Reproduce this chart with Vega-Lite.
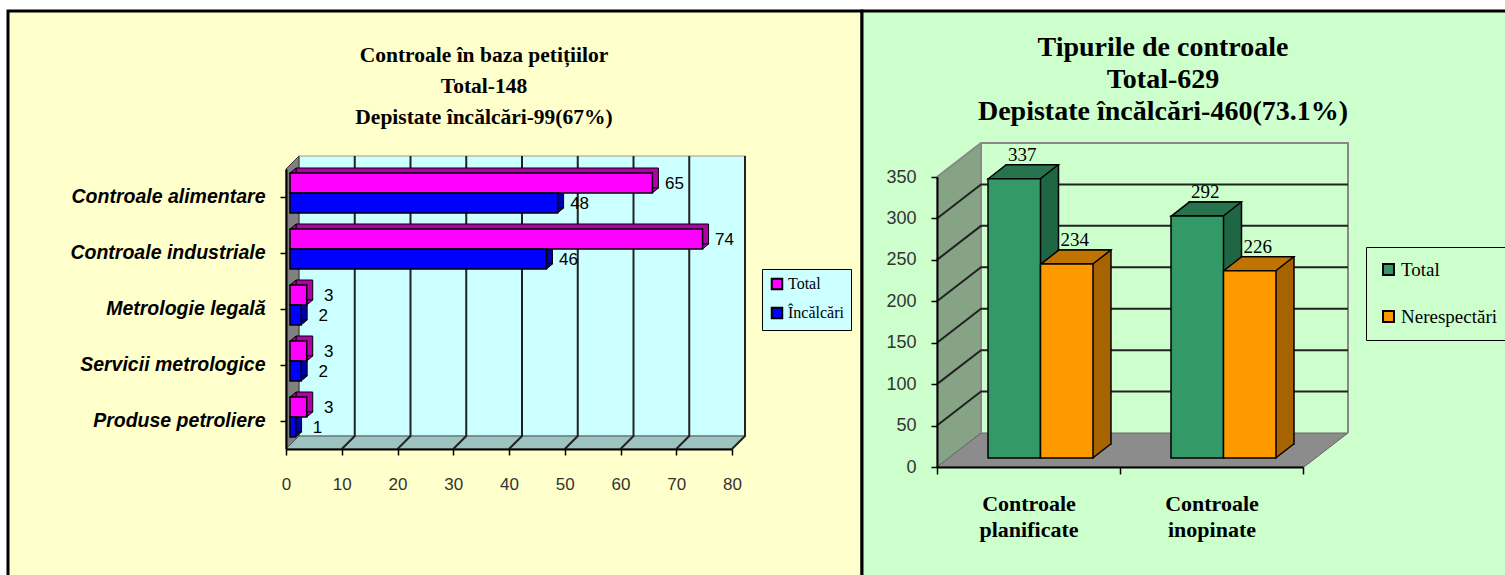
{"$schema":"https://vega.github.io/schema/vega-lite/v6.json","background":"#ffffff","padding":{"left":6,"top":9,"right":0,"bottom":0},"spacing":0,"bounds":"flush","resolve":{"scale":{"color":"independent"},"legend":{"color":"independent"}},"datasets":{"left":[{"cat":"Controale alimentare","series":"Total","value":65},{"cat":"Controale alimentare","series":"Încălcări","value":48},{"cat":"Controale industriale","series":"Total","value":74},{"cat":"Controale industriale","series":"Încălcări","value":46},{"cat":"Metrologie legală","series":"Total","value":3},{"cat":"Metrologie legală","series":"Încălcări","value":2},{"cat":"Servicii metrologice","series":"Total","value":3},{"cat":"Servicii metrologice","series":"Încălcări","value":2},{"cat":"Produse petroliere","series":"Total","value":3},{"cat":"Produse petroliere","series":"Încălcări","value":1}],"right":[{"cat":"Controale planificate","series":"Total","value":337},{"cat":"Controale planificate","series":"Nerespectări","value":234},{"cat":"Controale inopinate","series":"Total","value":292},{"cat":"Controale inopinate","series":"Nerespectări","value":226}],"leftTicks":[{"t":10},{"t":20},{"t":30},{"t":40},{"t":50},{"t":60},{"t":70},{"t":80}],"rightTicks":[{"t":50},{"t":100},{"t":150},{"t":200},{"t":250},{"t":300}],"one":[{"n":1}]},"hconcat":[{"width":854,"height":566,"view":{"fill":"#ffffcc","stroke":"#000000","strokeWidth":3},"title":{"text":["Controale în baza petițiilor","Total-148","Depistate încălcări-99(67%)"],"font":"Liberation Serif","fontWeight":"bold","fontSize":21.5,"lineHeight":31,"color":"#000000","anchor":"middle","dx":49,"baseline":"top","offset":-117},"resolve":{"scale":{"yOffset":"independent"}},"layer":[{"data":{"name":"one"},"mark":{"type":"point","filled":true,"size":4,"fill":"#ccffff","stroke":"#bbbbaa","strokeWidth":1.5,"opacity":1,"shape":"M13 -41 L459 -41 L459 239 L13 239 Z"},"encoding":{"x":{"datum":0,"type":"quantitative","scale":{"domain":[0,80],"range":[278,724]},"axis":{"values":[0,10,20,30,40,50,60,70,80],"offset":-128,"title":null,"grid":false,"labelFlush":false,"labelFont":"Liberation Sans","labelFontSize":17,"labelColor":"#333333","labelPadding":21,"tickColor":"#000000","tickSize":6,"tickWidth":1.5,"domainColor":"#000000","domainWidth":2,"zindex":1}},"y":{"datum":"Controale alimentare","type":"nominal","scale":{"domain":["Controale alimentare","Controale industriale","Metrologie legală","Servicii metrologice","Produse petroliere"],"type":"band","range":[158,438]},"axis":{"orient":"left","offset":-278,"title":null,"labelFont":"Liberation Sans","labelFontWeight":"bold","labelFontStyle":"italic","labelFontSize":19.5,"labelLimit":300,"labelColor":"#000000","labelPadding":15,"tickColor":"#000000","tickSize":6,"tickWidth":1.5,"domainColor":"#000000","domainWidth":2,"zindex":1}}}},{"data":{"name":"one"},"mark":{"type":"point","filled":true,"size":4,"fill":"#808080","stroke":"#333333","strokeWidth":1,"opacity":1,"shape":"M0 -28 L13 -41 L13 239 L0 252 Z"},"encoding":{"x":{"datum":0,"type":"quantitative"},"y":{"datum":"Controale alimentare","type":"nominal"}}},{"data":{"name":"one"},"mark":{"type":"point","filled":true,"size":4,"fill":"#9cc3c0","stroke":"#555555","strokeWidth":1,"opacity":1,"shape":"M0 252 L13 239 L459 239 L446 252 Z"},"encoding":{"x":{"datum":0,"type":"quantitative"},"y":{"datum":"Controale alimentare","type":"nominal"}}},{"data":{"name":"leftTicks"},"mark":{"type":"point","filled":false,"size":4,"stroke":"#222222","strokeWidth":2,"opacity":1,"shape":"M13 -41 L13 239 L0 252"},"encoding":{"x":{"field":"t","type":"quantitative"},"y":{"datum":"Controale alimentare","type":"nominal"}}},{"data":{"name":"left"},"mark":{"type":"bar","stroke":"#000000","strokeWidth":1,"xOffset":10,"x2Offset":10},"encoding":{"x":{"field":"value","type":"quantitative"},"y":{"field":"cat","type":"nominal"},"yOffset":{"field":"series","type":"nominal","scale":{"type":"band","domain":["Total","Încălcări"],"paddingOuter":0.4,"paddingInner":0,"range":[-9,47]}},"color":{"condition":{"test":"datum.series==='Total'","value":"#b000a8"},"value":"#0000a8"}}},{"data":{"name":"left"},"mark":{"type":"point","filled":true,"size":4,"stroke":"#000000","strokeWidth":1,"opacity":1,"shape":"M4 -14 L10 -19 L10 -14 Z"},"encoding":{"x":{"datum":0,"type":"quantitative"},"y":{"field":"cat","type":"nominal"},"yOffset":{"field":"series","type":"nominal","scale":{"type":"band","domain":["Total","Încălcări"],"paddingOuter":0.4,"paddingInner":0}},"color":{"condition":{"test":"datum.series==='Total'","value":"#b000a8"},"value":"#0000a8"}}},{"data":{"name":"left"},"mark":{"type":"point","filled":true,"size":4,"stroke":"#000000","strokeWidth":1,"opacity":1,"shape":"M4 6 L10 1 L4 1 Z"},"encoding":{"x":{"field":"value","type":"quantitative"},"y":{"field":"cat","type":"nominal"},"yOffset":{"field":"series","type":"nominal","scale":{"type":"band","domain":["Total","Încălcări"],"paddingOuter":0.4,"paddingInner":0}},"color":{"condition":{"test":"datum.series==='Total'","value":"#b000a8"},"value":"#0000a8"}}},{"data":{"name":"left"},"mark":{"type":"bar","stroke":"#000000","strokeWidth":1.5,"xOffset":4,"x2Offset":4},"encoding":{"x":{"field":"value","type":"quantitative"},"y":{"field":"cat","type":"nominal"},"yOffset":{"field":"series","type":"nominal","scale":{"type":"band","domain":["Total","Încălcări"],"paddingOuter":0.4,"paddingInner":0,"range":[-4,52]}},"color":{"field":"series","type":"nominal","scale":{"domain":["Total","Încălcări"],"range":["#ff00ff","#0000ff"]},"legend":{"orient":"none","legendX":754,"legendY":258,"title":null,"fillColor":"#ccffff","strokeColor":"#000000","padding":7,"rowPadding":9,"symbolType":"square","symbolSize":110,"symbolStrokeColor":"#000000","symbolStrokeWidth":2,"labelFont":"Liberation Serif","labelFontSize":16,"labelColor":"#000000","labelOffset":3}}}},{"data":{"name":"left"},"mark":{"type":"text","font":"Liberation Sans","fontSize":17,"color":"#000000","align":"center","baseline":"middle","dx":26,"dy":-3},"encoding":{"x":{"field":"value","type":"quantitative"},"y":{"field":"cat","type":"nominal"},"yOffset":{"field":"series","type":"nominal","scale":{"type":"band","domain":["Total","Încălcări"],"paddingOuter":0.4,"paddingInner":0}},"text":{"field":"value","type":"quantitative"}}}]},{"width":646,"height":566,"view":{"fill":"#ccffcc","stroke":"#000000","strokeWidth":3},"title":{"text":["Tipurile de controale","Total-629","Depistate încălcări-460(73.1%)"],"font":"Liberation Serif","fontWeight":"bold","fontSize":28,"lineHeight":32,"color":"#000000","anchor":"middle","dx":-22,"baseline":"top","offset":-115},"resolve":{"scale":{"xOffset":"independent"}},"layer":[{"data":{"name":"one"},"mark":{"type":"point","filled":true,"size":4,"fill":"#86a386","stroke":"#777777","strokeWidth":1,"opacity":1,"shape":"M-91.5 0 L-47.5 -34 L-47.5 -324 L-91.5 -290 Z"},"encoding":{"x":{"datum":"Controale planificate","type":"nominal","scale":{"type":"band","domain":["Controale planificate","Controale inopinate"],"range":[75,441]},"axis":{"offset":-110,"title":null,"labelAngle":0,"labelExpr":"split(datum.label,' ')","labelFont":"Liberation Serif","labelFontWeight":"bold","labelFontSize":22,"labelLineHeight":26,"labelColor":"#000000","labelPadding":19,"tickColor":"#000000","tickSize":7,"tickWidth":1.5,"tickBand":"extent","domainColor":"#000000","domainWidth":2,"zindex":1}},"y":{"datum":0,"type":"quantitative","scale":{"domain":[0,350],"range":[456,166]},"axis":{"values":[0,50,100,150,200,250,300,350],"orient":"left","offset":-75,"title":null,"grid":false,"labelFlush":false,"labelFont":"Liberation Sans","labelFontSize":18,"labelColor":"#333333","labelPadding":15,"tickColor":"#000000","tickSize":6,"tickWidth":1.5,"domainColor":"#000000","domainWidth":2,"zindex":1}}}},{"data":{"name":"one"},"mark":{"type":"point","filled":true,"size":4,"fill":"#8c8c8c","stroke":"#666666","strokeWidth":1,"opacity":1,"shape":"M-91.5 0 L-47.5 -34 L319.5 -34 L275.5 0 Z"},"encoding":{"x":{"datum":"Controale planificate","type":"nominal"},"y":{"datum":0,"type":"quantitative"}}},{"data":{"name":"one"},"mark":{"type":"point","filled":false,"size":4,"stroke":"#888888","strokeWidth":2,"opacity":1,"shape":"M-91.5 -290 L-47.5 -324 L319.5 -324 L319.5 -34 M-47.5 -34 L-47.5 -324"},"encoding":{"x":{"datum":"Controale planificate","type":"nominal"},"y":{"datum":0,"type":"quantitative"}}},{"data":{"name":"rightTicks"},"mark":{"type":"point","filled":false,"size":4,"stroke":"#222222","strokeWidth":2,"opacity":1,"shape":"M-91.5 0 L-47.5 -34 L319.5 -34"},"encoding":{"x":{"datum":"Controale planificate","type":"nominal"},"y":{"field":"t","type":"quantitative"}}},{"data":{"name":"right"},"mark":{"type":"bar","stroke":"#000000","strokeWidth":1.5,"yOffset":-23,"y2Offset":-23},"encoding":{"x":{"field":"cat","type":"nominal"},"xOffset":{"field":"series","type":"nominal","scale":{"type":"band","domain":["Total","Nerespectări"],"paddingOuter":0.743,"paddingInner":0,"range":[30,213]}},"y":{"field":"value","type":"quantitative"},"color":{"condition":{"test":"datum.series==='Total'","value":"#1f6644"},"value":"#a66300"}}},{"data":{"name":"right"},"mark":{"type":"point","filled":true,"size":4,"strokeWidth":0,"opacity":1,"shape":"M38 -9 L55.5 -23 L55.5 -25 L38 -25 Z"},"encoding":{"x":{"field":"cat","type":"nominal"},"xOffset":{"field":"series","type":"nominal","scale":{"type":"band","domain":["Total","Nerespectări"],"paddingOuter":0.743,"paddingInner":0}},"y":{"datum":0,"type":"quantitative"},"color":{"condition":{"test":"datum.series==='Total'","value":"#1f6644"},"value":"#a66300"}}},{"data":{"name":"right"},"mark":{"type":"point","filled":false,"size":4,"stroke":"#000000","strokeWidth":1.5,"opacity":1,"shape":"M38 -9 L56 -23"},"encoding":{"x":{"field":"cat","type":"nominal"},"xOffset":{"field":"series","type":"nominal","scale":{"type":"band","domain":["Total","Nerespectări"],"paddingOuter":0.743,"paddingInner":0}},"y":{"datum":0,"type":"quantitative"}}},{"data":{"name":"right"},"mark":{"type":"point","filled":true,"size":4,"stroke":"#000000","strokeWidth":1.5,"opacity":1,"shape":"M-14 -9 L4 -23 L56 -23 L38 -9 Z"},"encoding":{"x":{"field":"cat","type":"nominal"},"xOffset":{"field":"series","type":"nominal","scale":{"type":"band","domain":["Total","Nerespectări"],"paddingOuter":0.743,"paddingInner":0}},"y":{"field":"value","type":"quantitative"},"color":{"condition":{"test":"datum.series==='Total'","value":"#26734d"},"value":"#bf7300"}}},{"data":{"name":"right"},"mark":{"type":"bar","stroke":"#000000","strokeWidth":1.5,"yOffset":-9,"y2Offset":-9},"encoding":{"x":{"field":"cat","type":"nominal"},"xOffset":{"field":"series","type":"nominal","scale":{"type":"band","domain":["Total","Nerespectări"],"paddingOuter":0.743,"paddingInner":0,"range":[12,195]}},"y":{"field":"value","type":"quantitative"},"color":{"field":"series","type":"nominal","scale":{"domain":["Total","Nerespectări"],"range":["#339966","#ff9900"]},"legend":{"orient":"none","legendX":504,"legendY":236,"title":null,"strokeColor":"#000000","fillColor":"#ccffcc","padding":13,"rowPadding":27,"symbolType":"square","symbolSize":120,"symbolStrokeColor":"#000000","symbolStrokeWidth":2,"labelFont":"Liberation Serif","labelFontSize":19,"labelColor":"#000000","labelOffset":3,"labelLimit":200}}}},{"data":{"name":"right"},"mark":{"type":"text","font":"Liberation Serif","fontSize":19,"color":"#000000","align":"center","baseline":"middle","dx":20,"dy":-33},"encoding":{"x":{"field":"cat","type":"nominal"},"xOffset":{"field":"series","type":"nominal","scale":{"type":"band","domain":["Total","Nerespectări"],"paddingOuter":0.743,"paddingInner":0}},"y":{"field":"value","type":"quantitative"},"text":{"field":"value","type":"quantitative"}}}]}]}
